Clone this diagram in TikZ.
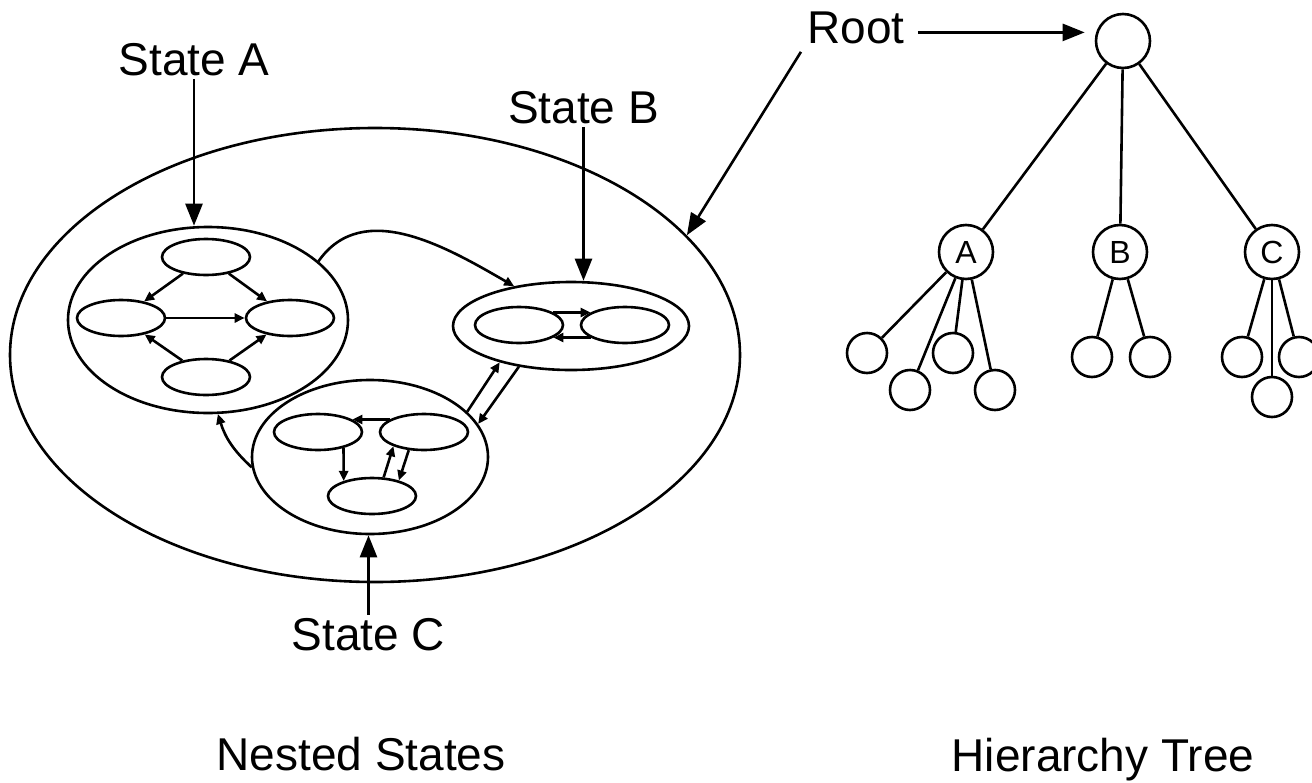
\documentclass[tikz,border=0pt]{standalone}
\usepackage{fontspec}
\setmainfont{Liberation Sans}
\usetikzlibrary{arrows.meta,shapes.geometric}

\tikzset{
  state/.style={draw, ellipse, inner sep=0pt},
  barrow/.style={-{Triangle[length=22pt,width=17pt]}},
  sarrow/.style={-{Triangle[length=10pt,width=9pt]}},
  tnode/.style={draw, circle, inner sep=0pt, minimum size=#1, font=\fontsize{32}{36}\selectfont},
  lbl/.style={anchor=base, inner sep=2pt, font=\fontsize{46}{50}\selectfont},
}

\begin{document}
\begin{tikzpicture}[x=1pt, y=1pt, line width=2.6pt]
      \useasboundingbox (0,0) rectangle (1312,-782);
      % nested states
      \draw
        (375,-355) node[state, minimum width=730pt, minimum height=454pt] (nest){}
        (208,-320) node[state, minimum width=280pt, minimum height=186pt] (ao){}
        (571,-326) node[state, minimum width=236pt, minimum height=88pt] (bo){}
        (370,-457) node[state, minimum width=236pt, minimum height=154pt] (co){};
      \draw[every node/.style={state, minimum width=88pt, minimum height=36pt}]
        (206,-257) node (at){}
        (121,-318) node (al){}
        (290,-318) node (ar){}
        (206,-377) node (ab){}
        (519,-325) node (bl){}
        (625,-325) node (br){}
        (318,-432) node (cl){}
        (424,-432) node (cr){}
        (372,-496) node (cb){};
      \begin{scope}[sarrow]
        \draw (at) to (al);
        \draw (at) to (ar);
        \draw (al) to (ar);
        \draw (ab) to (al);
        \draw (ab) to (ar);
        \draw (bl.20) to (br.160);
        \draw (br.200) to (bl.-20);
        \draw (cr.160) to (cl.20);
        \draw (cl.-32) to (cb.152);
        \draw (cb.58) to (cr.-155);
        \draw (cr.-130) to (cb.30);
        \draw (ao.28) to[out=55, in=150] (bo.145);
        \draw (co.25) to (bo.-153);
        \draw (bo.-142) to (co.17);
        \draw (co.185) to[bend left=15] (ao.-84);
      \end{scope}
      % labels
      \draw
        (194,-75) node[lbl] (lA){State A}
        (583.5,-123) node[lbl] (lB){State B}
        (368.5,-650) node[lbl] (lC){State C}
        (856,-43) node[lbl] (lRoot){Root}
        (361,-770) node[lbl] (lNest){Nested States}
        (1103,-771) node[lbl] (lTree){Hierarchy Tree};
      % hierarchy tree
      \draw
        (1123,-41) node[tnode=54pt] (root){}
        (966,-252) node[tnode=54pt] (tA){A}
        (1120,-252) node[tnode=54pt] (tB){B}
        (1272,-252) node[tnode=54pt] (tC){C}
        (867,-353) node[tnode=40pt] (a1){}
        (910,-390) node[tnode=40pt] (a2){}
        (953,-353) node[tnode=40pt] (a3){}
        (995,-390) node[tnode=40pt] (a4){}
        (1092,-357) node[tnode=40pt] (b1){}
        (1150,-357) node[tnode=40pt] (b2){}
        (1242,-357) node[tnode=40pt] (c1){}
        (1299,-357) node[tnode=40pt] (c2){}
        (1272,-397) node[tnode=40pt] (c3){};
      \begin{scope}[-]
        \draw (root) to (tA);
        \draw (root) to (tB);
        \draw (root) to (tC);
        \draw (tA) to (a1);
        \draw (tA) to (a2);
        \draw (tA) to (a3);
        \draw (tA) to (a4);
        \draw (tB) to (b1);
        \draw (tB) to (b2);
        \draw (tC) to (c1);
        \draw (tC) to (c2);
        \draw (tC) to (c3);
      \end{scope}
      \begin{scope}[barrow]
        \draw (lA.south) to (lA.south |- ao.north);
        \draw (lB.south) to (lB.south |- bo.north);
        \draw (lC.north) to (lC.north |- co.south);
        \draw[shorten <=10pt, shorten >=10pt] ([yshift=-5pt]lRoot.east) to ([yshift=-5pt]lRoot.east -| root.west);
        \draw[shorten <=6pt] (lRoot.south west) to (nest.21);
      \end{scope}
    \end{tikzpicture}
\end{document}
